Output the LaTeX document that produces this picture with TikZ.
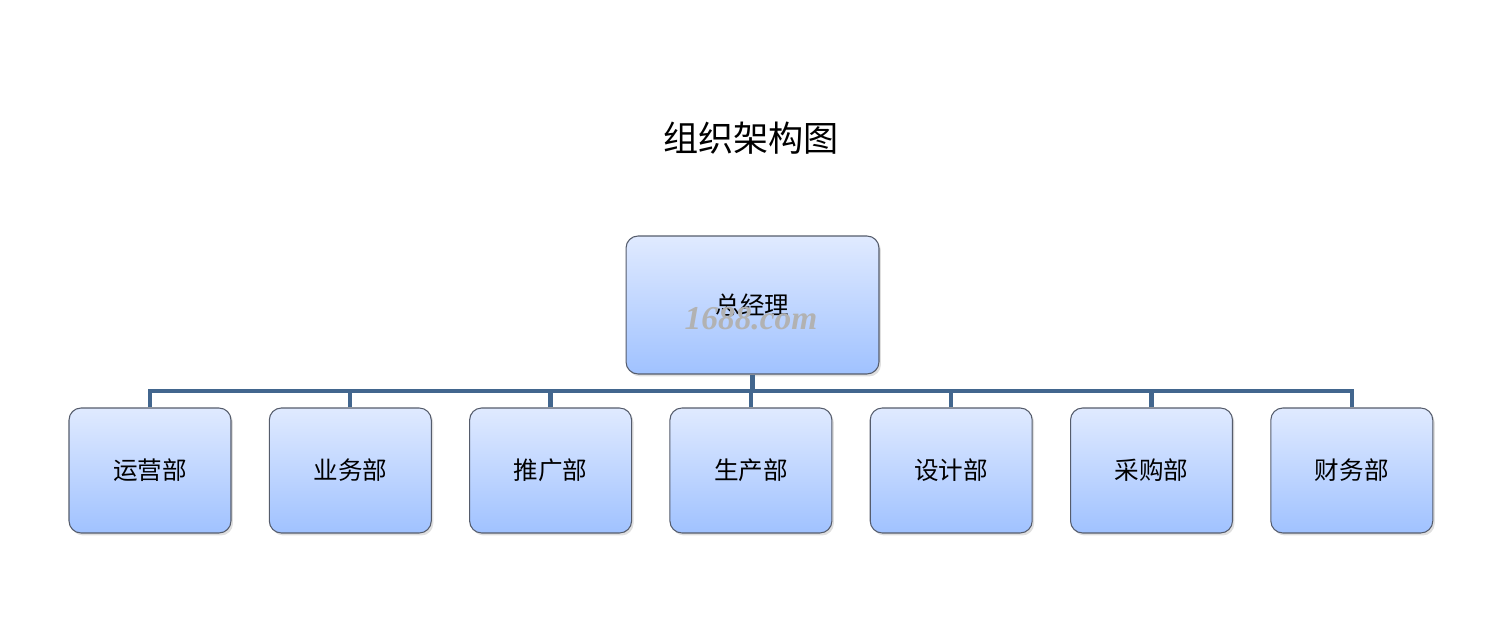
\documentclass[tikz,border=0pt]{standalone}
\usepackage{fontspec}
\newfontfamily\cjk{Noto Sans CJK SC}
\newfontfamily\wmfont{Liberation Serif}
\usepackage{xcolor}
\usepackage{tikz}
\usetikzlibrary{shadows}
\definecolor{boxtop}{RGB}{224,234,255}
\definecolor{boxbottom}{RGB}{160,194,255}
\definecolor{boxedge}{RGB}{85,92,108}
\definecolor{linkblue}{RGB}{66,102,142}
\tikzset{
  orgbox/.style={draw=boxedge, line width=0.6pt, rounded corners=0.24cm,
    top color=boxtop, bottom color=boxbottom,
    drop shadow={opacity=0.25, shadow xshift=0.04cm, shadow yshift=-0.05cm},
    font=\cjk\fontsize{14}{16}\selectfont, inner sep=0pt},
  deptbox/.style={orgbox, minimum width=3.24cm, minimum height=2.5cm},
  link/.style={draw=linkblue, line width=2.4pt}
}

\begin{document}
\begin{tikzpicture}[x=0.02cm, y=-0.02cm]
      \useasboundingbox (0,0) rectangle (1501,634);
      \node[font=\cjk\fontsize{20}{24}\selectfont] (title) at (751,138) {组织架构图};
      % top box
      \node[orgbox, minimum width=5.06cm, minimum height=2.76cm] (boss) at (752.5,305) {总经理};
      \node[font=\wmfont\bfseries\itshape\fontsize{19}{21}\selectfont, text=gray!60] (mark) at (751,319) {1688.com};
      \coordinate (bus) at (752,391);
      % departments
      \foreach \name [count=\i] in {运营部,业务部,推广部,生产部,设计部,采购部,财务部} {
        \node[deptbox] (d\i) at ({150+200.3*(\i-1)},470.5) {\name};
        \draw[link] (d\i.north) -- (d\i.north |- bus);
      }
      \draw[link, line cap=rect] (d1.north |- bus) -- (d7.north |- bus);
      \draw[link] (boss.south) -- (boss.south |- bus);
    \end{tikzpicture}
\end{document}
